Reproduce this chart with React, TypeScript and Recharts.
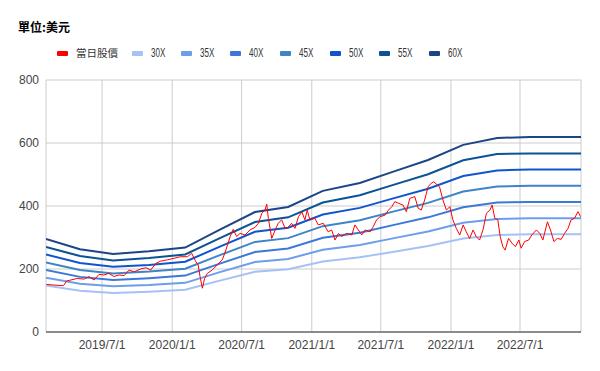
import { CartesianGrid, Line, LineChart, XAxis, YAxis } from "recharts";

// 股價（約略讀自圖表）
const PRICE_DATES = [
  "2019-02-05", "2019-02-25", "2019-03-22", "2019-03-30", "2019-04-10", "2019-04-27", "2019-05-15", "2019-05-28",
  "2019-06-10", "2019-06-23", "2019-07-06", "2019-07-19", "2019-08-01", "2019-08-15", "2019-08-28", "2019-09-10",
  "2019-09-23", "2019-10-10", "2019-10-24", "2019-11-06", "2019-11-19", "2019-12-02", "2019-12-19", "2020-01-06",
  "2020-01-23", "2020-02-10", "2020-02-21", "2020-03-03", "2020-03-09", "2020-03-14", "2020-03-20", "2020-03-26",
  "2020-04-02", "2020-04-15", "2020-04-28", "2020-05-11", "2020-05-18", "2020-06-01", "2020-06-09", "2020-06-18",
  "2020-06-27", "2020-07-10", "2020-07-23", "2020-08-05", "2020-08-14", "2020-08-23", "2020-08-31", "2020-09-05",
  "2020-09-09", "2020-09-18", "2020-09-27", "2020-10-05", "2020-10-14", "2020-10-23", "2020-10-31", "2020-11-09",
  "2020-11-18", "2020-11-27", "2020-12-06", "2020-12-14", "2020-12-20", "2020-12-27", "2021-01-09", "2021-01-18",
  "2021-01-31", "2021-02-13", "2021-02-22", "2021-03-03", "2021-03-12", "2021-03-20", "2021-04-03", "2021-04-16",
  "2021-04-24", "2021-05-03", "2021-05-12", "2021-05-21", "2021-06-03", "2021-06-11", "2021-06-20", "2021-06-29",
  "2021-07-12", "2021-07-21", "2021-07-30", "2021-08-07", "2021-08-16", "2021-08-28", "2021-09-06", "2021-09-15",
  "2021-09-28", "2021-10-07", "2021-10-15", "2021-10-24", "2021-11-02", "2021-11-10", "2021-11-17", "2021-11-26",
  "2021-12-02", "2021-12-11", "2021-12-20", "2021-12-29", "2022-01-06", "2022-01-15", "2022-01-24", "2022-02-02",
  "2022-02-10", "2022-02-19", "2022-02-28", "2022-03-08", "2022-03-17", "2022-03-26", "2022-04-04", "2022-04-13",
  "2022-04-19", "2022-04-26", "2022-05-04", "2022-05-10", "2022-05-17", "2022-05-23", "2022-06-01", "2022-06-10",
  "2022-06-19", "2022-06-28", "2022-07-04", "2022-07-13", "2022-07-24", "2022-08-01", "2022-08-13", "2022-08-22",
  "2022-08-30", "2022-09-11", "2022-09-19", "2022-09-28", "2022-10-07", "2022-10-17", "2022-10-26", "2022-11-04",
  "2022-11-12", "2022-11-21", "2022-11-30", "2022-12-07",
];
const PRICE_CLOSE = [
  151, 149, 147, 162, 165, 170, 168, 176,
  165, 183, 181, 186, 176, 181, 179, 197,
  191, 200, 204, 197, 218, 225, 229, 234,
  239, 239, 250, 223, 213, 176, 139, 170,
  186, 197, 213, 229, 250, 303, 326, 303,
  313, 308, 324, 332, 345, 377, 387, 406,
  361, 297, 324, 345, 356, 329, 332, 345,
  329, 366, 381, 356, 387, 356, 361, 340,
  345, 318, 324, 292, 313, 303, 313, 308,
  340, 324, 308, 324, 318, 334, 356, 366,
  371, 387, 398, 414, 409, 403, 382, 424,
  430, 393, 387, 419, 461, 472, 477, 467,
  461, 419, 387, 398, 356, 329, 308, 340,
  318, 297, 324, 303, 292, 324, 377, 387,
  403, 361, 356, 303, 271, 260, 297, 282,
  271, 292, 266, 287, 292, 308, 324, 313,
  292, 350, 324, 287, 297, 294, 313, 329,
  356, 361, 382, 366,
];

// 本益比河流圖節點
const NODE_DATES = [
  "2019-02-04", "2019-05-04", "2019-07-30", "2019-11-01", "2020-02-04", "2020-05-05", "2020-08-05", "2020-10-31",
  "2021-01-30", "2021-05-07", "2021-08-05", "2021-11-02", "2022-02-02", "2022-05-02", "2022-07-27", "2022-12-08",
];
const BAND_30X = [148, 131, 124, 128, 134, 163, 191, 199, 224, 237, 255, 273, 297, 308, 310, 310];
const BAND_35X = [172, 153, 145, 149, 156, 190, 222, 232, 261, 276, 298, 319, 347, 359, 361, 361];
const BAND_40X = [197, 175, 165, 171, 179, 217, 254, 265, 299, 315, 340, 364, 396, 411, 413, 413];
const BAND_45X = [221, 197, 186, 192, 201, 244, 286, 298, 336, 355, 383, 410, 446, 462, 464, 464];
const BAND_50X = [246, 219, 207, 213, 223, 271, 318, 331, 373, 394, 425, 455, 495, 513, 516, 516];
const BAND_55X = [270, 241, 227, 235, 246, 298, 349, 364, 411, 434, 468, 501, 545, 565, 567, 567];
const BAND_60X = [295, 263, 248, 256, 268, 325, 381, 397, 448, 473, 510, 546, 594, 616, 619, 619];

const X_TICKS = ["2019-07-01", "2020-01-01", "2020-07-01", "2021-01-01", "2021-07-01", "2022-01-01", "2022-07-01"];
const Y_TICKS = [0, 200, 400, 600, 800];
const X_START = "2019-02-04";
const X_END = "2022-12-08";

const BANDS = [
  { name: "30X", values: BAND_30X, color: "#a4c2f4" },
  { name: "35X", values: BAND_35X, color: "#6d9eeb" },
  { name: "40X", values: BAND_40X, color: "#3c78d8" },
  { name: "45X", values: BAND_45X, color: "#3d85c6" },
  { name: "50X", values: BAND_50X, color: "#1155cc" },
  { name: "55X", values: BAND_55X, color: "#0b5394" },
  { name: "60X", values: BAND_60X, color: "#1c4587" },
];

const toTime = (d: string) => new Date(d + "T00:00:00Z").getTime();
const fmtDate = (t: number) => {
  const d = new Date(t);
  return `${d.getUTCFullYear()}/${d.getUTCMonth() + 1}/${d.getUTCDate()}`;
};

const priceData = PRICE_DATES.map((d, i) => ({ t: toTime(d), v: PRICE_CLOSE[i] }));
const bandData = BANDS.map((b) => NODE_DATES.map((d, i) => ({ t: toTime(d), v: b.values[i] })));

const legendItems = [{ name: "當日股價", color: "#ff0000", cjk: true }, ...BANDS.map((b) => ({ name: b.name, color: b.color, cjk: false }))];
const legendLeft = [57, 132, 181, 230, 280, 330, 379, 429];

export default function App() {
  return (
    <div
      style={{
        position: "absolute",
        left: 0,
        top: 0,
        width: 600,
        height: 371,
        background: "#fff",
        fontFamily: "'Liberation Sans', Arial, 'Noto Sans CJK TC', sans-serif",
      }}
    >
      <div style={{ position: "absolute", left: 18, top: 19, fontSize: 12, fontWeight: 700, color: "#000", fontFamily: "'Noto Sans CJK TC', sans-serif", lineHeight: "16px" }}>
        單位:美元
      </div>
      {legendItems.map((item, i) => (
        <div key={item.name} style={{ position: "absolute", left: legendLeft[i], top: 46, height: 14, display: "flex", alignItems: "center" }}>
          <span style={{ display: "inline-block", width: 11, height: 5, borderRadius: 1, background: item.color, marginRight: 8 }} />
          <span
            style={{
              display: "inline-block",
              fontSize: item.cjk ? 10.5 : 12,
              color: "#333",
              whiteSpace: "nowrap",
              transform: item.cjk ? "none" : "scaleX(0.67)",
              transformOrigin: "left center",
              fontFamily: item.cjk ? "'Noto Sans CJK TC', sans-serif" : "'Liberation Sans', Arial, sans-serif",
              lineHeight: "14px",
            }}
          >
            {item.name}
          </span>
        </div>
      ))}
      <LineChart width={600} height={371} margin={{ top: 80, right: 19, bottom: 9, left: 0 }}>
        <CartesianGrid stroke="#cccccc" />
        <XAxis
          dataKey="t"
          type="number"
          domain={[toTime(X_START), toTime(X_END)]}
          ticks={X_TICKS.map(toTime)}
          tickFormatter={fmtDate}
          allowDataOverflow
          height={30}
          stroke="#333333"
          tickLine={false}
          tick={{ fontSize: 12, fill: "#444444" }}
        />
        <YAxis
          type="number"
          domain={[0, 800]}
          ticks={Y_TICKS}
          width={46}
          axisLine={false}
          tickLine={false}
          tickMargin={1}
          tick={{ fontSize: 12, fill: "#444444" }}
        />
        {BANDS.map((b, i) => (
          <Line
            key={b.name}
            data={bandData[i]}
            dataKey="v"
            name={b.name}
            type="linear"
            stroke={b.color}
            strokeWidth={2}
            dot={false}
            activeDot={false}
            isAnimationActive={false}
          />
        ))}
        <Line data={priceData} dataKey="v" name="當日股價" type="linear" stroke="#ff0000" strokeWidth={1} dot={false} activeDot={false} isAnimationActive={false} />
      </LineChart>
    </div>
  );
}
